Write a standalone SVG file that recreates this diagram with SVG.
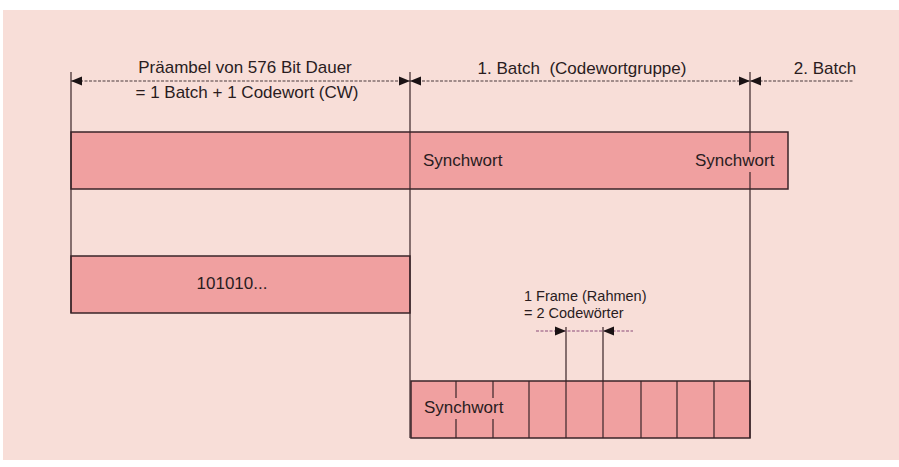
<svg xmlns="http://www.w3.org/2000/svg" width="899" height="467" viewBox="0 0 899 467">
  <style>
    .bg { fill: #f8ded8; }
    .bar { fill: #f0a0a0; stroke: #3a2428; stroke-width: 1.5; }
    .edge { stroke: #3a2428; stroke-width: 1.2; fill: none; }
    .dim { stroke: #4a3a3c; stroke-width: 1; stroke-dasharray: 3 1.5; fill: none; }
    .dimp { stroke: #8a4a78; stroke-width: 1; stroke-dasharray: 3 1.5; fill: none; }
    .lbl { font-family: "Liberation Sans", Arial, sans-serif; font-size: 17px; fill: #2a1c1e; }
    .small { font-family: "Liberation Sans", Arial, sans-serif; font-size: 14.5px; fill: #2a1c1e; }
    .ah { fill: #1a1214; }
  </style>
  <defs>
    <!-- arrowhead, tip at origin -->
    <path id="tipL" class="ah" d="M0,0 L11,-4.5 L11,4.5 Z"/>
    <path id="tipR" class="ah" d="M0,0 L-11,-4.5 L-11,4.5 Z"/>
  </defs>

  <rect class="bg" x="3" y="10" width="896" height="450"/>

  <!-- full transmission bar -->
  <g id="transmission">
    <rect class="bar" x="71" y="132" width="717" height="57"/>
    <text class="lbl" x="423" y="166">Synchwort</text>
    <text class="lbl" x="695" y="166">Synchwort</text>
  </g>

  <!-- preamble bar -->
  <g id="preamble">
    <rect class="bar" x="71" y="256" width="339" height="57"/>
    <text class="lbl" x="232" y="289" text-anchor="middle">101010...</text>
  </g>

  <!-- batch expanded into codewords -->
  <g id="batch">
    <rect class="bar" x="411" y="381" width="339" height="57"/>
    <g class="edge">
      <line x1="456" y1="381" x2="456" y2="398"/>
      <line x1="456" y1="419" x2="456" y2="438"/>
      <line x1="493" y1="381" x2="493" y2="398"/>
      <line x1="493" y1="419" x2="493" y2="438"/>
      <line x1="529" y1="381" x2="529" y2="438"/>
      <line x1="566" y1="381" x2="566" y2="438"/>
      <line x1="603" y1="381" x2="603" y2="438"/>
      <line x1="641" y1="381" x2="641" y2="438"/>
      <line x1="677" y1="381" x2="677" y2="438"/>
      <line x1="714" y1="381" x2="714" y2="438"/>
    </g>
    <text class="lbl" x="424" y="413">Synchwort</text>
  </g>

  <!-- connectors: extension lines and dimension lines -->
  <g id="connectors">
    <g class="edge">
      <line x1="71" y1="72" x2="71" y2="313"/>
      <line x1="410" y1="72" x2="410" y2="438"/>
      <line x1="750" y1="72" x2="750" y2="152"/>
      <line x1="750" y1="172" x2="750" y2="438"/>
      <line x1="566" y1="327" x2="566" y2="381"/>
      <line x1="603" y1="327" x2="603" y2="381"/>
    </g>
    <line class="dim" x1="71" y1="81" x2="853" y2="81"/>
    <use href="#tipL" x="71" y="81"/>
    <use href="#tipR" x="410" y="81"/>
    <use href="#tipL" x="410" y="81"/>
    <use href="#tipR" x="750" y="81"/>
    <use href="#tipL" x="750" y="81"/>

    <line class="dimp" x1="536" y1="331" x2="633" y2="331"/>
    <use href="#tipR" x="566" y="331"/>
    <use href="#tipL" x="603" y="331"/>
  </g>

  <!-- dimension labels -->
  <g id="labels">
    <text class="lbl" x="245" y="73" text-anchor="middle">Präambel von 576 Bit Dauer</text>
    <text class="lbl" x="247" y="98" text-anchor="middle">= 1 Batch + 1 Codewort (CW)</text>
    <text class="lbl" x="582" y="74" text-anchor="middle" xml:space="preserve">1. Batch  (Codewortgruppe)</text>
    <text class="lbl" x="825" y="74" text-anchor="middle">2. Batch</text>
    <text class="small" x="524" y="301">1 Frame (Rahmen)</text>
    <text class="small" x="524" y="318">= 2 Codewörter</text>
  </g>
</svg>
